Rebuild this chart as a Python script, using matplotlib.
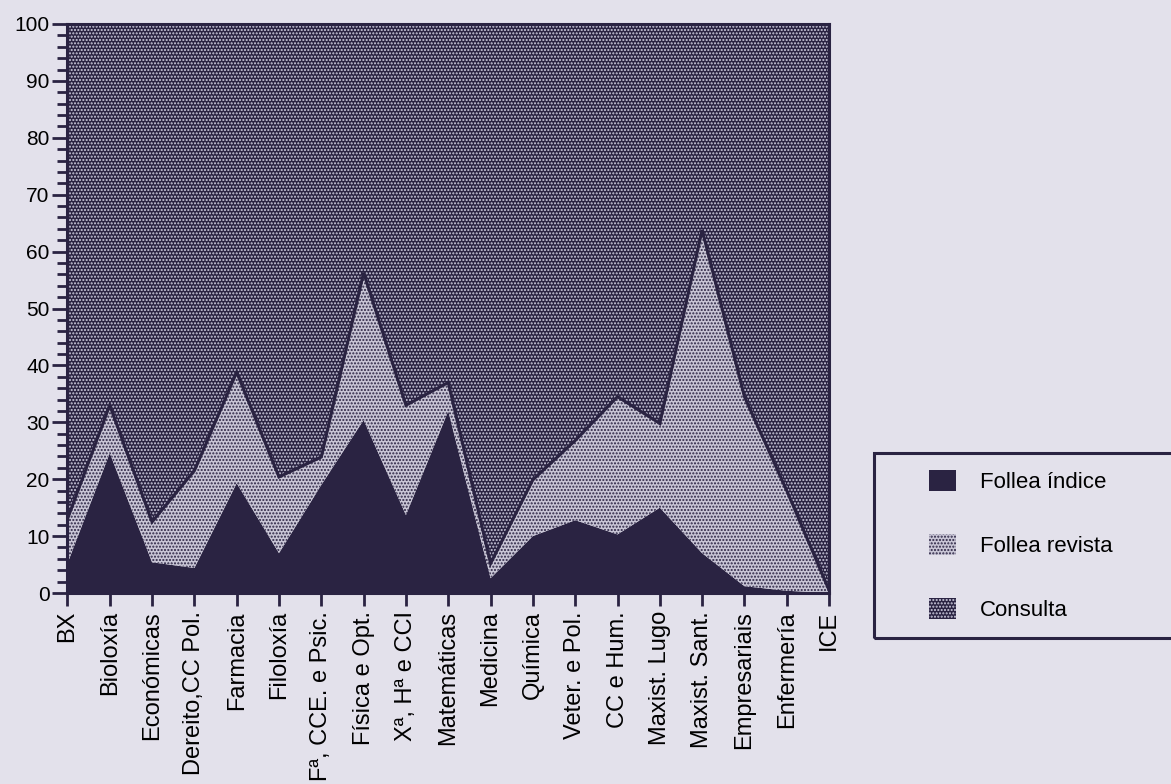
import matplotlib
matplotlib.use("Agg")
import matplotlib.pyplot as plt
import numpy as np
from matplotlib.patches import Rectangle

plt.rcParams['font.family'] = ['Liberation Sans', 'DejaVu Sans']
plt.rcParams['hatch.linewidth'] = 1.0

centros = ['BX', 'Bioloxía', 'Económicas', 'Dereito,CC Pol.', 'Farmacia',
           'Filoloxía', 'Fª, CCE. e Psic.', 'Física e Opt.', 'Xª, Hª e CCI',
           'Matemáticas', 'Medicina', 'Química', 'Veter. e Pol.', 'CC e Hum.',
           'Maxist. Lugo', 'Maxist. Sant.', 'Empresariais', 'Enfermería', 'ICE']

# porcentaxes (suman 100 en cada centro)
follea_indice = [5.2, 24.6, 5.4, 4.4, 19.3, 7.0, 19.0, 30.4, 13.7, 32.0,
                 2.6, 10.0, 12.8, 10.3, 15.0, 7.0, 1.2, 0.4, 0.0]
follea_revista = [7.8, 8.4, 7.1, 17.1, 19.5, 13.4, 4.9, 25.9, 19.3, 5.0,
                  2.6, 9.9, 14.0, 24.2, 14.8, 56.8, 33.3, 17.6, 0.5]
consulta = [87.0, 67.0, 87.5, 78.5, 61.2, 79.6, 76.1, 43.7, 67.0, 63.0,
            94.8, 80.1, 73.2, 65.5, 70.2, 36.2, 65.5, 82.0, 99.5]

escuro = '#2a2342'
claro = '#c9c6d6'
fondo = '#e3e1eb'

fig = plt.figure(figsize=(11.71, 7.84), dpi=100, facecolor=fondo)
ax = fig.add_axes([0.0576, 0.2436, 0.6504, 0.7258])
ax.set_facecolor(fondo)

x = np.arange(len(centros))
capas = ax.stackplot(x, follea_indice, follea_revista, consulta,
                     colors=[escuro, claro, escuro],
                     labels=['Follea índice', 'Follea revista', 'Consulta'],
                     linewidth=0)
capas[1].set_edgecolor(escuro)
capas[1].set_hatch('.....')
capas[2].set_edgecolor('#cfcde0')
capas[2].set_hatch('.....')

tope = np.array(follea_indice) + np.array(follea_revista)
ax.plot(x, tope, color=escuro, lw=2.2, solid_joinstyle='miter')

ax.set_xlim(0, len(centros) - 1)
ax.set_ylim(0, 100)
ax.set_xticks(x)
ax.set_xticklabels(centros, rotation=90, fontsize=17)
ax.set_yticks(np.arange(0, 101, 10))
ax.set_yticks(np.arange(0, 101, 2), minor=True)
ax.tick_params(axis='y', labelsize=15, length=11, width=2, pad=2, color=escuro)
ax.tick_params(axis='y', which='minor', length=7, width=2, color=escuro)
ax.tick_params(axis='x', length=9, width=2, pad=4, color=escuro)
for s in ax.spines.values():
    s.set_color(escuro)
    s.set_linewidth(2.2)

# caixa da lenda (cortada polo bordo dereito)
fig.patches.append(Rectangle((0.7464, 0.1862), 0.3, 0.236, transform=fig.transFigure,
                             facecolor='none', edgecolor=escuro, lw=2.2))
fig.legend(loc='upper left', bbox_to_anchor=(0.7933, 0.400), frameon=False,
           fontsize=16, borderpad=0, borderaxespad=0, handlelength=1.2,
           handleheight=1.05, handletextpad=1.1, labelspacing=1.85)

fig.savefig('out.png', dpi=100, facecolor=fondo)
